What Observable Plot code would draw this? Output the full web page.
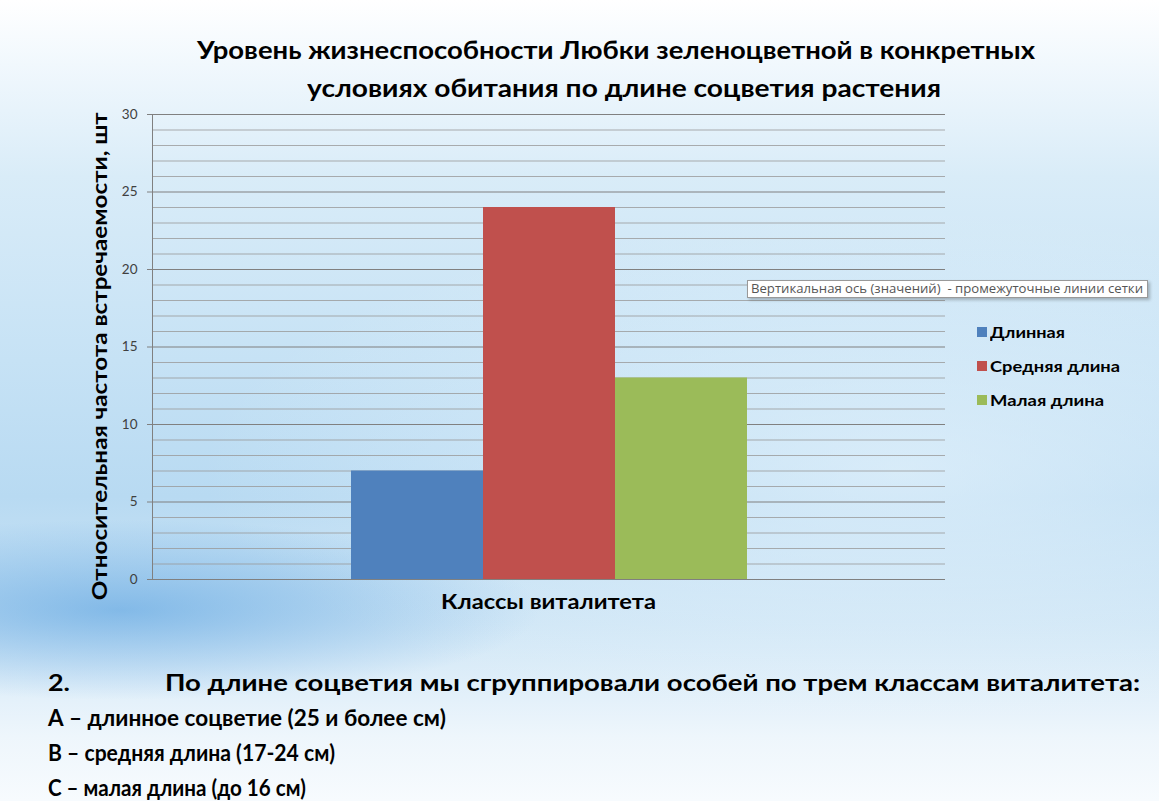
<!DOCTYPE html>
<html><head><meta charset="utf-8">
<script src="https://cdn.jsdelivr.net/npm/d3@7"></script>
<script src="https://cdn.jsdelivr.net/npm/@observablehq/plot@0.6"></script>
<style>
html,body{margin:0;padding:0;width:1159px;height:801px;overflow:hidden;}
body{position:relative;font-family:Lato,"Open Sans",sans-serif;
background:
 radial-gradient(ellipse 420px 90px at 120px 610px, rgba(70,150,220,0.55), rgba(70,150,220,0) 100%),
 radial-gradient(ellipse 700px 260px at 900px 470px, rgba(235,246,253,0.6), rgba(235,246,253,0) 100%),
 linear-gradient(180deg,#ffffff 0%,#f1f8fd 8%,#d9ecf8 22%,#c6e2f5 45%,#b8daf2 62%,#cfe6f6 78%,#eef6fc 92%,#f7fbfe 100%);}
.t{position:absolute;color:#000;font-weight:bold;white-space:nowrap;transform-origin:0 50%;line-height:1;}
#chart{position:absolute;left:0;top:0;}
.sw{position:absolute;width:10px;height:10px;}
#tipbox{position:absolute;left:747px;top:280px;width:401px;height:18px;border:1px solid #999;background:#fff;
 box-sizing:border-box;box-shadow:2px 2px 3px rgba(0,0,0,0.25);}
</style></head>
<body>
<div id="chart"></div>
<div id="tipbox"></div>
<div id="texts"></div>
<script>
const series = ["Длинная", "Средняя длина", "Малая длина"];
const values = [7, 24, 13];
const colors = ["#4f81bd", "#c0504d", "#9bbb59"];
const yTicks = [0, 5, 10, 15, 20, 25, 30];
const minorTicks = d3.range(0, 31);
const titleLines = ["Уровень жизнеспособности Любки зеленоцветной в конкретных", "условиях обитания по длине соцветия растения"];
const yTitle = "Относительная частота встречаемости, шт";
const xTitle = "Классы виталитета";
const tipText = "Вертикальная ось (значений)\u00a0 - промежуточные линии сетки";
const noteLines = ["По длине соцветия мы сгруппировали особей по трем классам виталитета:", "А – длинное соцветие (25 и более см)", "В – средняя длина (17-24 см)", "С – малая длина (до 16 см)"];

const data = series.map((s, i) => ({series: s, value: values[i]}));

const plot = Plot.plot({
  width: 1159, height: 801,
  marginLeft: 152, marginRight: 214, marginTop: 114, marginBottom: 222,
  style: {background: "transparent", fontFamily: "Lato, sans-serif"},
  x: {domain: series, paddingInner: 0, paddingOuter: 1.5, axis: null},
  y: {domain: [0, 30]},
  color: {domain: series, range: colors},
  marks: [
    Plot.ruleY(minorTicks.filter(d => d % 5 !== 0), {stroke: "#9a9a9a", strokeWidth: 1, strokeOpacity: 0.8}),
    Plot.ruleY(yTicks, {stroke: "#808080", strokeWidth: 1.2}),
    Plot.barY(data, {x: "series", y: "value", fill: "series", inset: 0}),
    Plot.axisY({ticks: yTicks, tickSize: 5, tickPadding: 10, fontSize: 13.5, color: "#404040", stroke: "#808080", label: null}),
    Plot.frame({anchor: "left", stroke: "#808080"})
  ]
});
document.getElementById("chart").appendChild(plot);

const host = document.getElementById("texts");
// place text with left edge x, vertical centre y, fitted to width w
function place(html, x, y, size, w, opts = {}) {
  const d = document.createElement("div");
  d.className = "t";
  d.style.fontSize = size + "px";
  if (opts.color) d.style.color = opts.color;
  if (opts.weight) d.style.fontWeight = opts.weight;
  if (opts.family) d.style.fontFamily = opts.family;
  d.innerHTML = html;
  host.appendChild(d);
  const mw = d.getBoundingClientRect().width, mh = d.getBoundingClientRect().height;
  const s = w ? w / mw : 1;
  if (opts.rotate) {
    d.style.transformOrigin = "50% 50%";
    d.style.left = (x - mw / 2) + "px";
    d.style.top = (y - mh / 2) + "px";
    d.style.transform = `rotate(-90deg) scaleX(${s})`;
  } else {
    d.style.left = x + "px";
    d.style.top = (y - mh / 2) + "px";
    d.style.transform = `scaleX(${s})`;
  }
}
function draw() {
  place(titleLines[0], 197, 50, 24, 838);
  place(titleLines[1], 307, 88, 24, 634);
  place(yTitle, 100, 356, 20.5, 488, {rotate: true});
  place(xTitle, 441, 600, 21, 215);
  place(tipText, 751, 289, 12, 392, {weight: "normal", color: "#555", family: "'Open Sans', sans-serif"});
  const legTops = [332, 366, 400];
  const legW = [75, 130, 114];
  series.forEach((s, i) => {
    const sw = document.createElement("div");
    sw.className = "sw";
    sw.style.background = colors[i];
    sw.style.left = "977px";
    sw.style.top = (legTops[i] - 5) + "px";
    host.appendChild(sw);
    place(s, 990, legTops[i], 16, legW[i]);
  });
  place("2.", 48, 683, 22, 22);
  place(noteLines[0], 165, 683, 22, 975);
  place(noteLines[1], 48, 718, 22.5, 398);
  place(noteLines[2], 48, 753, 22.5, 287);
  place(noteLines[3], 48, 788, 22.5, 258);
}
(document.fonts ? document.fonts.ready : Promise.resolve()).then(draw);
</script>
</body></html>
